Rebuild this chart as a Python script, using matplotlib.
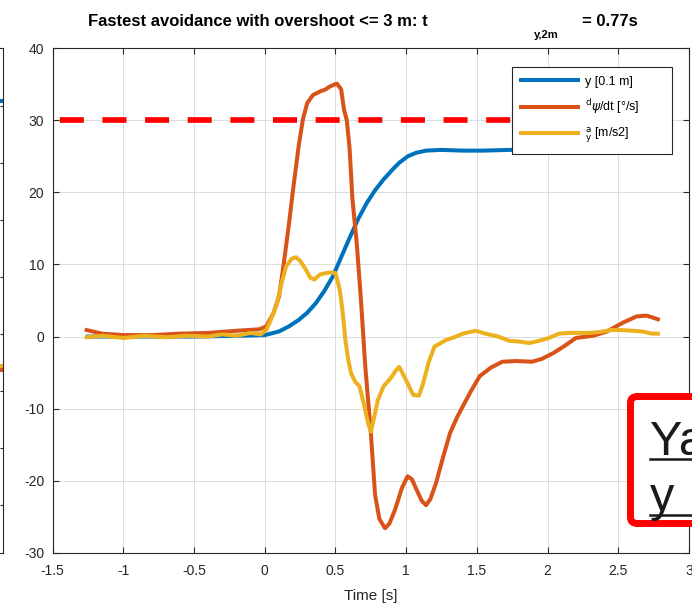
import numpy as np
import matplotlib
matplotlib.use("Agg")
import matplotlib.pyplot as plt
from matplotlib.patches import FancyBboxPatch
from matplotlib.lines import Line2D

plt.rcParams['font.family'] = ['Liberation Sans', 'DejaVu Sans']
plt.rcParams['lines.scale_dashes'] = False
plt.rcParams['axes.unicode_minus'] = False

# ---- data ----
t_y = [-1.25, -1.0, -0.5, -0.2, 0.0, 0.10, 0.17, 0.24, 0.30, 0.36, 0.42, 0.48,
       0.54, 0.60, 0.66, 0.72, 0.78, 0.84, 0.90, 0.95, 1.01, 1.07, 1.14, 1.25,
       1.40, 1.54, 1.73, 2.0, 2.4, 2.77]
y_pos = [0.0, 0.0, 0.0, 0.1, 0.2, 0.7, 1.4, 2.3, 3.3, 4.6, 6.3, 8.3,
         11.0, 13.7, 16.3, 18.5, 20.3, 21.8, 23.1, 24.1, 25.0, 25.5, 25.8, 25.9,
         25.8, 25.8, 25.9, 26.0, 26.0, 26.0]

t_r = [-1.26, -1.15, -1.0, -0.8, -0.6, -0.4, -0.2, -0.04, 0.01, 0.06, 0.10, 0.13,
       0.17, 0.20, 0.24, 0.27, 0.30, 0.34, 0.39, 0.43, 0.46, 0.51, 0.54, 0.56,
       0.58, 0.60, 0.62, 0.65, 0.68, 0.71, 0.75, 0.78, 0.81, 0.85, 0.88, 0.92,
       0.97, 1.01, 1.04, 1.07, 1.11, 1.14, 1.17, 1.21, 1.26, 1.31, 1.36, 1.40,
       1.46, 1.52, 1.60, 1.68, 1.78, 1.89, 1.96, 2.04, 2.12, 2.20, 2.32, 2.42,
       2.53, 2.63, 2.70, 2.78]
yaw_rate = [0.9, 0.4, 0.2, 0.2, 0.4, 0.5, 0.8, 1.0, 1.4, 3.2, 5.5, 9.5,
            15.5, 20.4, 26.5, 30.2, 32.4, 33.5, 34.0, 34.3, 34.7, 35.1, 34.3, 31.5,
            30.0, 26.0, 19.0, 13.0, 5.1, -4.0, -13.4, -22.0, -25.3, -26.6, -26.0, -24.1,
            -21.0, -19.4, -19.8, -21.1, -22.8, -23.4, -22.6, -20.4, -16.8, -13.4, -11.2, -9.7,
            -7.5, -5.5, -4.3, -3.5, -3.4, -3.5, -3.1, -2.3, -1.3, -0.2, 0.1, 0.7,
            1.9, 2.8, 2.9, 2.4]

t_a = [-1.26, -1.15, -1.0, -0.85, -0.7, -0.55, -0.4, -0.3, -0.2, -0.1, -0.03, 0.01,
       0.04, 0.08, 0.12, 0.15, 0.19, 0.22, 0.25, 0.29, 0.32, 0.35, 0.39, 0.43,
       0.47, 0.50, 0.53, 0.55, 0.57, 0.59, 0.61, 0.64, 0.67, 0.70, 0.73, 0.75,
       0.77, 0.80, 0.84, 0.89, 0.92, 0.95, 0.98, 1.01, 1.05, 1.09, 1.12, 1.16,
       1.20, 1.28, 1.34, 1.40, 1.49, 1.56, 1.65, 1.73, 1.80, 1.87, 1.94, 2.01,
       2.08, 2.15, 2.22, 2.29, 2.36, 2.45, 2.52, 2.60, 2.67, 2.74, 2.78]
a_lat = [-0.1, 0.1, -0.2, 0.1, -0.1, 0.1, 0.0, 0.3, 0.1, 0.5, 0.3, 0.9,
         2.2, 4.2, 7.5, 9.7, 10.8, 11.0, 10.5, 9.3, 8.2, 7.9, 8.6, 8.8,
         8.9, 8.8, 6.5, 3.5, -0.5, -3.2, -5.1, -6.3, -6.9, -9.3, -12.0, -13.2,
         -11.5, -8.8, -6.9, -5.8, -4.9, -4.2, -5.3, -6.5, -8.1, -8.2, -6.5, -3.5,
         -1.4, -0.5, -0.1, 0.4, 0.8, 0.4, 0.0, -0.6, -0.7, -0.9, -0.6, -0.2,
         0.4, 0.5, 0.5, 0.5, 0.6, 0.9, 0.9, 0.8, 0.7, 0.4, 0.4]

limit_t = [-1.5, 2.77]
limit_val = [30, 30]

xticks = [-1.5, -1, -0.5, 0, 0.5, 1, 1.5, 2, 2.5, 3]
xticklabels = ['-1.5', '-1', '-0.5', '0', '0.5', '1', '1.5', '2', '2.5', '3']
yticks = [-30, -20, -10, 0, 10, 20, 30, 40]

# neighbouring panel, only its right edge is in the picture
side_yticks = [-30, -20, -10, 0, 10, 20, 30, 40]
side_blue = [40.9, 40.9]
side_yellow = [-5.5, -5.5]
side_orange = [-6.2, -6.2]

labels = ['y [0.1 m]', r'${}^{\rm d}\psi$/dt [°/s]', r'${}^{\rm a}_{\rm y}$ [m/s2]']

c_blue = '#0072BD'
c_orange = '#D95319'
c_yellow = '#EDB120'
c_axis = '#262626'

W, H = 692, 609
def fx(px):
    return px / W
def fy(py):
    return 1 - py / H

fig = plt.figure(figsize=(W / 100, H / 100), dpi=100)

# main axes
ax = fig.add_axes([fx(52.7), fy(552.7), (689 - 52.7) / W, (552.7 - 48.3) / H])
ax.plot(limit_t, limit_val, color='red', lw=4.1, linestyle=(25.8, (17.3, 13.4)),
        solid_capstyle='butt', dash_capstyle='butt', zorder=2)
l1, = ax.plot(t_y, y_pos, color=c_blue, lw=2.9, zorder=3)
l2, = ax.plot(t_r, yaw_rate, color=c_orange, lw=2.9, zorder=3)
l3, = ax.plot(t_a, a_lat, color=c_yellow, lw=2.9, zorder=4)

ax.set_xlim(-1.5, 3)
ax.set_ylim(-30, 40)
ax.set_xticks(xticks)
ax.set_xticklabels(xticklabels)
ax.set_yticks(yticks)
ax.grid(True, color='#dcdcdc', lw=0.7)
ax.set_axisbelow(True)
for s in ax.spines.values():
    s.set_color(c_axis)
    s.set_linewidth(0.8)
ax.tick_params(direction='in', length=4.5, width=0.8, color=c_axis,
               labelcolor=c_axis, labelsize=10, top=True, right=True)
ax.tick_params(axis='y', pad=6)
ax.tick_params(axis='x', pad=8)
ax.set_xlabel('Time [s]', fontsize=11, color=c_axis, labelpad=8)

leg = ax.legend([l1, l2, l3], labels, loc='upper left', mode='expand',
                bbox_to_anchor=(0.722, 0.7843, 0.2513, 0.1787),
                borderaxespad=0, fontsize=9, handlelength=4.6,
                handletextpad=0.5, labelspacing=0.75, borderpad=0.7,
                fancybox=False, framealpha=1)
leg.get_frame().set_edgecolor(c_axis)
leg.get_frame().set_linewidth(0.8)

# title pieces (MATLAB tex layout)
fig.text(fx(88), fy(26), 'Fastest avoidance with overshoot <= 3 m: t',
         fontsize=12, fontweight='bold', va='baseline', color='black')
fig.text(fx(534), fy(38), 'y,2m', fontsize=8, fontweight='bold',
         va='baseline', color='black')
fig.text(fx(582), fy(26), '= 0.77s', fontsize=12, fontweight='bold',
         va='baseline', color='black')

# right edge of the neighbouring panel
ax0 = fig.add_axes([fx(3 - 300), fy(552.7), 300 / W, (552.7 - 48.3) / H])
ax0.plot([0.9, 1.0], side_blue, color=c_blue, lw=2.9)
ax0.plot([0.9, 1.0], side_yellow, color=c_yellow, lw=2.9)
ax0.plot([0.9, 1.0], side_orange, color=c_orange, lw=2.9)
ax0.set_xlim(0, 1)
ax0.set_ylim(-38.3, 50.1)
ax0.set_yticks(side_yticks)
ax0.set_xticks([])
ax0.tick_params(direction='in', length=2.5, width=0.8, color=c_axis,
                left=False, right=True, labelleft=False)
for s in ax0.spines.values():
    s.set_color(c_axis)
    s.set_linewidth(0.8)

# red annotation box, cut by the figure edge
box = FancyBboxPatch((fx(630.5), fy(523.5)), fx(200), (523.5 - 396.5) / H,
                     boxstyle='round,pad=0,rounding_size=0.01',
                     transform=fig.transFigure, facecolor='white',
                     edgecolor='red', lw=5, zorder=5)
fig.patches.append(box)
fig.text(fx(650), fy(455), 'Ya', fontsize=35, va='baseline', color='#1a1a1a', zorder=6)
fig.text(fx(650), fy(511), 'y :', fontsize=35, va='baseline', color='#1a1a1a', zorder=6)
fig.lines.append(Line2D([fx(650), fx(700)], [fy(459), fy(459)], color='#1a1a1a',
                        lw=1.8, transform=fig.transFigure, zorder=6))
fig.lines.append(Line2D([fx(650), fx(700)], [fy(515), fy(515)], color='#1a1a1a',
                        lw=1.8, transform=fig.transFigure, zorder=6))

fig.savefig('out.png', dpi=100)
